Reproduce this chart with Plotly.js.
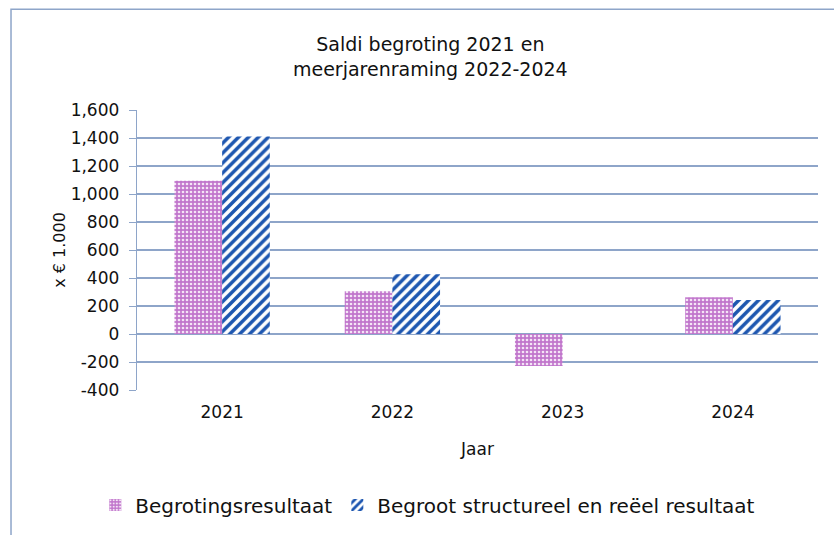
<!DOCTYPE html>
<html><head><meta charset="utf-8">
<script src="https://cdn.plot.ly/plotly-3.0.1.min.js"></script>
<style>html,body{margin:0;padding:0;background:#fff}#c{width:834px;height:535px}</style>
</head><body><div id="c"></div>
<script>
const years = ['2021', '2022', '2023', '2024'];
const begrotingsresultaat = [1095, 305, -228, 263];
const structureel = [1410, 427, null, 242];
const tickVals = [-400, -200, 0, 200, 400, 600, 800, 1000, 1200, 1400, 1600];
const tickText = ['-400', '-200', '0', '200', '400', '600', '800', '1,000', '1,200', '1,400', '1,600'];

const font = {family: 'DejaVu Sans, Liberation Sans, sans-serif', color: '#111'};
const data = [
  {type: 'bar', x: years, y: begrotingsresultaat, name: 'Begrotingsresultaat',
   marker: {color: '#c77fd0', line: {width: 0},
     pattern: {shape: '.', fgcolor: '#f4e4f6', bgcolor: '#c176cc', size: 4, solidity: 0.35}}},
  {type: 'bar', x: years, y: structureel, name: 'Begroot structureel en reëel resultaat',
   marker: {color: '#1d56b0', line: {width: 0},
     pattern: {shape: '/', fgcolor: '#1d56b0', bgcolor: '#ffffff', size: 7, solidity: 0.5}}}
];
const layout = {
  width: 834, height: 535,
  margin: {l: 137, r: 16, t: 110, b: 144},
  paper_bgcolor: '#fff', plot_bgcolor: '#fff',
  font: font,
  title: {text: 'Saldi begroting 2021 en<br>meerjarenraming 2022-2024', x: 0.516, xanchor: 'center', y: 0.905, yanchor: 'top',
          font: {size: 19, family: font.family, color: '#111'}},
  barmode: 'group', bargap: 0.44, bargroupgap: 0,
  xaxis: {type: 'category', showgrid: false, zeroline: false, showline: false, ticks: '',
          tickfont: {size: 17}, ticklabelstandoff: 10, title: {text: 'Jaar', font: {size: 17}, standoff: 22}},
  yaxis: {range: [-400, 1600], tickvals: tickVals, ticktext: tickText, showgrid: true,
          gridcolor: '#8ea5c9', gridwidth: 1.3, zeroline: false, showline: true, linecolor: '#8ea5c9', linewidth: 1.3,
          ticks: 'outside', ticklen: 7, tickcolor: '#8ea5c9', tickfont: {size: 17}, ticklabelstandoff: 6,
          title: {text: 'x € 1.000', font: {size: 16}, standoff: 1}},
  legend: {orientation: 'h', x: 0.427, xanchor: 'center', y: -0.406, yanchor: 'middle',
           font: {size: 20}, itemwidth: 30, traceorder: 'normal'},
  shapes: [{type: 'rect', xref: 'paper', yref: 'paper', x0: -0.185, x1: 1.05, y0: -0.6, y1: 1.36,
            line: {color: '#8ea5c9', width: 1.5}, fillcolor: 'rgba(0,0,0,0)', layer: 'below'}],
  showlegend: true
};
Plotly.newPlot('c', data, layout, {staticPlot: true});
</script></body></html>
